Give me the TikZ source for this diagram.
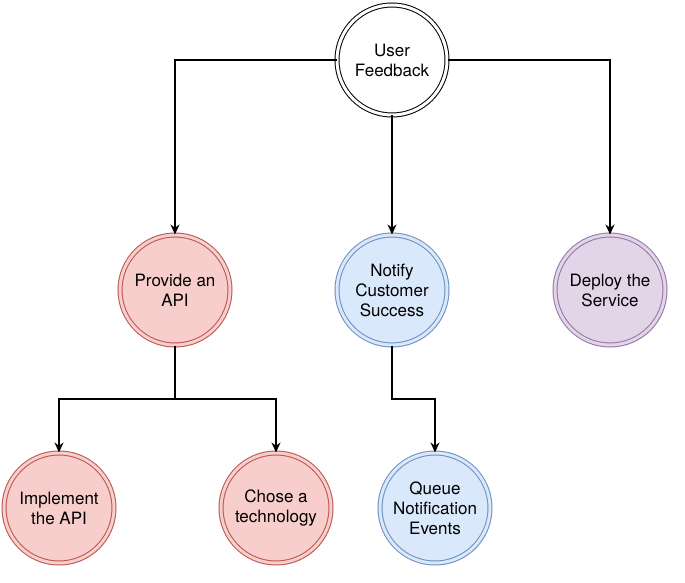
\documentclass[tikz,border=0pt]{standalone}
\usepackage{fontspec}
\setmainfont{TeX Gyre Heros}
\usetikzlibrary{arrows.meta,shadows}
\definecolor{redfill}{HTML}{F8CECC}
\definecolor{redline}{HTML}{B85450}
\definecolor{bluefill}{HTML}{DAE8FC}
\definecolor{blueline}{HTML}{6C8EBF}
\definecolor{purpfill}{HTML}{E1D5E7}
\definecolor{purpline}{HTML}{9673A6}
\tikzset{
  bub/.style={circle, minimum size=110pt, inner sep=0pt, line width=1pt,
    double distance=3pt, align=center,
    font=\fontsize{17}{20}\selectfont,
    drop shadow={opacity=0.18, shadow xshift=2pt, shadow yshift=-2pt}},
  topbub/.style={bub, draw=black, fill=white, double=white},
  redbub/.style={bub, draw=redline, fill=redfill, double=redfill},
  bluebub/.style={bub, draw=blueline, fill=bluefill, double=bluefill},
  purpbub/.style={bub, draw=purpline, fill=purpfill, double=purpfill},
  conn/.style={draw=black, line width=1.3pt, -{Stealth[length=10pt,width=9pt]}}
}
\begin{document}
\begin{tikzpicture}[x=1pt,y=-1pt]
\useasboundingbox (0,0) rectangle (685,583);
\node[topbub] (uf) at (392,60) {User\\Feedback};
\node[redbub] (pa) at (175,290) {Provide an\\API};
\node[bluebub] (nc) at (392,290) {Notify\\Customer\\Success};
\node[purpbub] (ds) at (610,290) {Deploy the\\Service};
\node[redbub] (ia) at (59,508) {Implement\\the API};
\node[redbub] (ct) at (276,508) {Chose a\\technology};
\node[bluebub] (qn) at (435,508) {Queue\\Notification\\Events};
\coordinate (pj) at (175,399);
\coordinate (nj) at (392,399);
\draw[conn] (uf.west) -| (pa.north);
\draw[conn] (uf.east) -| (ds.north);
\draw[conn] (uf.south) -- (nc.north);
\draw[conn] (pa.south) -- (pj) -| (ia.north);
\draw[conn] (pj) -| (ct.north);
\draw[conn] (nc.south) -- (nj) -| (qn.north);
\end{tikzpicture}
\end{document}
